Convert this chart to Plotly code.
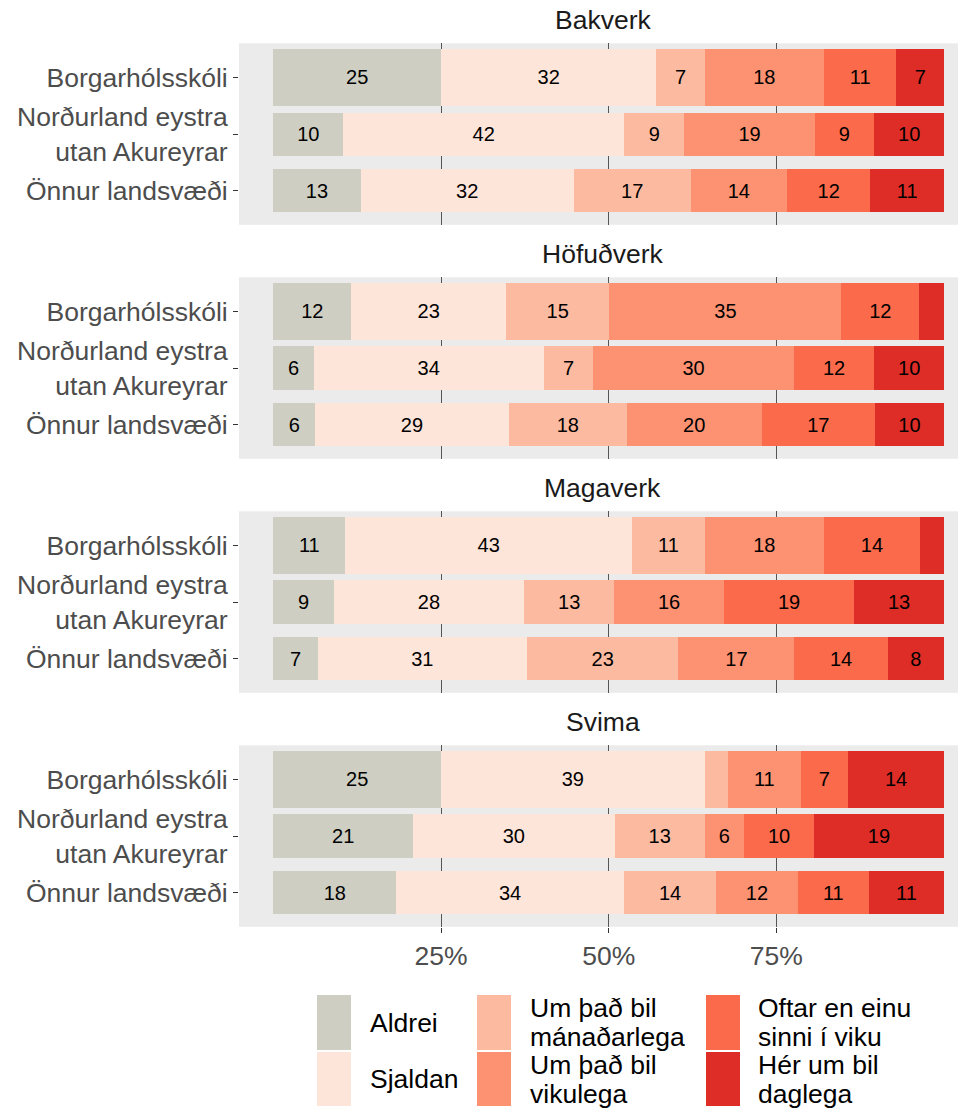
import plotly.graph_objects as go

# ---------------- data ----------------
regions = ["Borgarhólsskóli", "Norðurland eystra<br>utan Akureyrar", "Önnur landsvæði"]
categories = ["Aldrei", "Sjaldan", "Um það bil mánaðarlega", "Um það bil vikulega",
              "Oftar en einu sinni í viku", "Hér um bil daglega"]
legend_lines = [["Aldrei"], ["Sjaldan"], ["Um það bil", "mánaðarlega"], ["Um það bil", "vikulega"],
                ["Oftar en einu", "sinni í viku"], ["Hér um bil", "daglega"]]
facets = ["Bakverk", "Höfuðverk", "Magaverk", "Svima"]

# rows = regions, columns = categories (percent)
bakverk = [
    [25.0, 32.1, 7.2, 17.8, 10.8, 7.1],
    [10.4, 41.9, 9.0, 19.4, 8.9, 10.4],
    [13.0, 31.8, 17.4, 14.4, 12.4, 11.0],
]
hofudverk = [
    [11.6, 23.1, 15.4, 34.6, 11.6, 3.7],
    [6.0, 34.3, 7.4, 29.9, 12.0, 10.4],
    [6.2, 28.9, 17.6, 20.1, 16.9, 10.3],
]
magaverk = [
    [10.7, 42.8, 10.8, 17.8, 14.3, 3.6],
    [9.0, 28.4, 13.4, 16.4, 19.4, 13.4],
    [6.6, 31.2, 22.6, 17.3, 13.9, 8.4],
]
svima = [
    [25.0, 39.3, 3.5, 10.8, 7.1, 14.3],
    [20.8, 30.1, 13.4, 5.9, 10.4, 19.4],
    [18.3, 34.0, 13.7, 12.2, 10.6, 11.2],
]
facet_data = [bakverk, hofudverk, magaverk, svima]
x_tickvals = [25, 50, 75]
x_ticktext = ["25%", "50%", "75%"]

# ---------------- style ----------------
colors = ["#CECEC2", "#FEE5D9", "#FCBBA1", "#FC9272", "#FB6A4A", "#DE2D26"]
bar_widths = [1.0, 0.76, 0.76]
FONT = "Liberation Sans, Arial, sans-serif"
OFF = 8  # page body margin offset
W, H = 966 - OFF, 1108 - OFF
ML, MR = 239 - OFF, 0
MT = 43 - OFF
MB = H - (927 - OFF)
plot_h = H - MT - MB


def py(pix):
    return (H - MB - (pix - OFF)) / plot_h


def px(pix):
    return ((pix - OFF) - ML) / (W - ML - MR)


panel_top0, panel_step, panel_h = 43.3, 234.0, 181.5

fig = go.Figure()
layout_axes = {}
annotations = []
for i, (name, data) in enumerate(zip(facets, facet_data)):
    xa = "x" if i == 0 else f"x{i+1}"
    ya = "y" if i == 0 else f"y{i+1}"
    for k, cat in enumerate(categories):
        vals = [data[r][k] for r in range(len(regions))]
        labels = [f"{round(v)}" if v >= 5 else "" for v in vals]
        fig.add_trace(go.Bar(
            y=regions, x=vals, orientation="h", name=cat,
            marker=dict(color=colors[k], line=dict(width=0)),
            width=bar_widths, text=labels, textposition="inside",
            insidetextanchor="middle", constraintext="none",
            textfont=dict(size=20, color="black", family=FONT),
            showlegend=False, xaxis=xa, yaxis=ya, hoverinfo="skip",
        ))
    top = panel_top0 + i * panel_step
    bottom = top + panel_h
    last = i == len(facets) - 1
    layout_axes["xaxis" if i == 0 else f"xaxis{i+1}"] = dict(
        domain=[0, 1], anchor=ya, range=[-5.13, 103.28],
        tickvals=x_tickvals, ticktext=x_ticktext,
        showticklabels=last, ticks="outside" if last else "", ticklen=5,
        tickcolor="#333333", tickwidth=1,
        showgrid=True, gridcolor="#555555", gridwidth=1,
        zeroline=False, showline=False,
        tickfont=dict(size=26.5, color="#4D4D4D", family=FONT),
    )
    layout_axes["yaxis" if i == 0 else f"yaxis{i+1}"] = dict(
        domain=[max(0, py(bottom)), min(1, py(top))], anchor=xa, type="category",
        categoryorder="array", categoryarray=regions, range=[2.6, -0.6],
        ticks="outside", ticklen=5, tickcolor="#333333", tickwidth=1,
        showgrid=False, zeroline=False, showline=False,
        tickfont=dict(size=26.5, color="#4D4D4D", family=FONT),
    )
    annotations.append(dict(
        text=name, x=0.5, y=py(top - 23), xref="paper", yref="paper",
        xanchor="center", yanchor="middle", showarrow=False,
        font=dict(size=26.5, color="#1A1A1A", family=FONT),
    ))

# ---------------- manual legend (tall ggplot-style keys) ----------------
shapes = []
key_cols = [317, 477, 706]
key_rows = [(995, 1050), (1052, 1106)]
text_cols = [368, 528, 756]
for k, cat in enumerate(categories):
    c, r = k // 2, k % 2
    x0, x1 = key_cols[c], key_cols[c] + 34
    y0, y1 = key_rows[r]
    shapes.append(dict(type="rect", xref="paper", yref="paper",
                       x0=px(x0), x1=px(x1), y0=py(y1), y1=py(y0),
                       fillcolor=colors[k], line=dict(width=0), layer="above"))
    lines = legend_lines[k]
    ymid = (y0 + y1) / 2
    if len(lines) == 1:
        ys = [ymid]
    else:
        ys = [ymid - 14.5, ymid + 14.5]
    for line, yy in zip(lines, ys):
        annotations.append(dict(
            text=line, x=px(text_cols[c]), y=py(yy), xref="paper", yref="paper",
            xanchor="left", yanchor="middle", showarrow=False,
            font=dict(size=26.5, color="black", family=FONT),
        ))

fig.update_layout(
    width=W, height=H, barmode="stack",
    margin=dict(l=ML, r=MR, t=MT, b=MB),
    paper_bgcolor="white", plot_bgcolor="#EBEBEB",
    font=dict(family=FONT),
    showlegend=False, annotations=annotations, shapes=shapes,
    **layout_axes,
)

fig.write_html("out.html")
